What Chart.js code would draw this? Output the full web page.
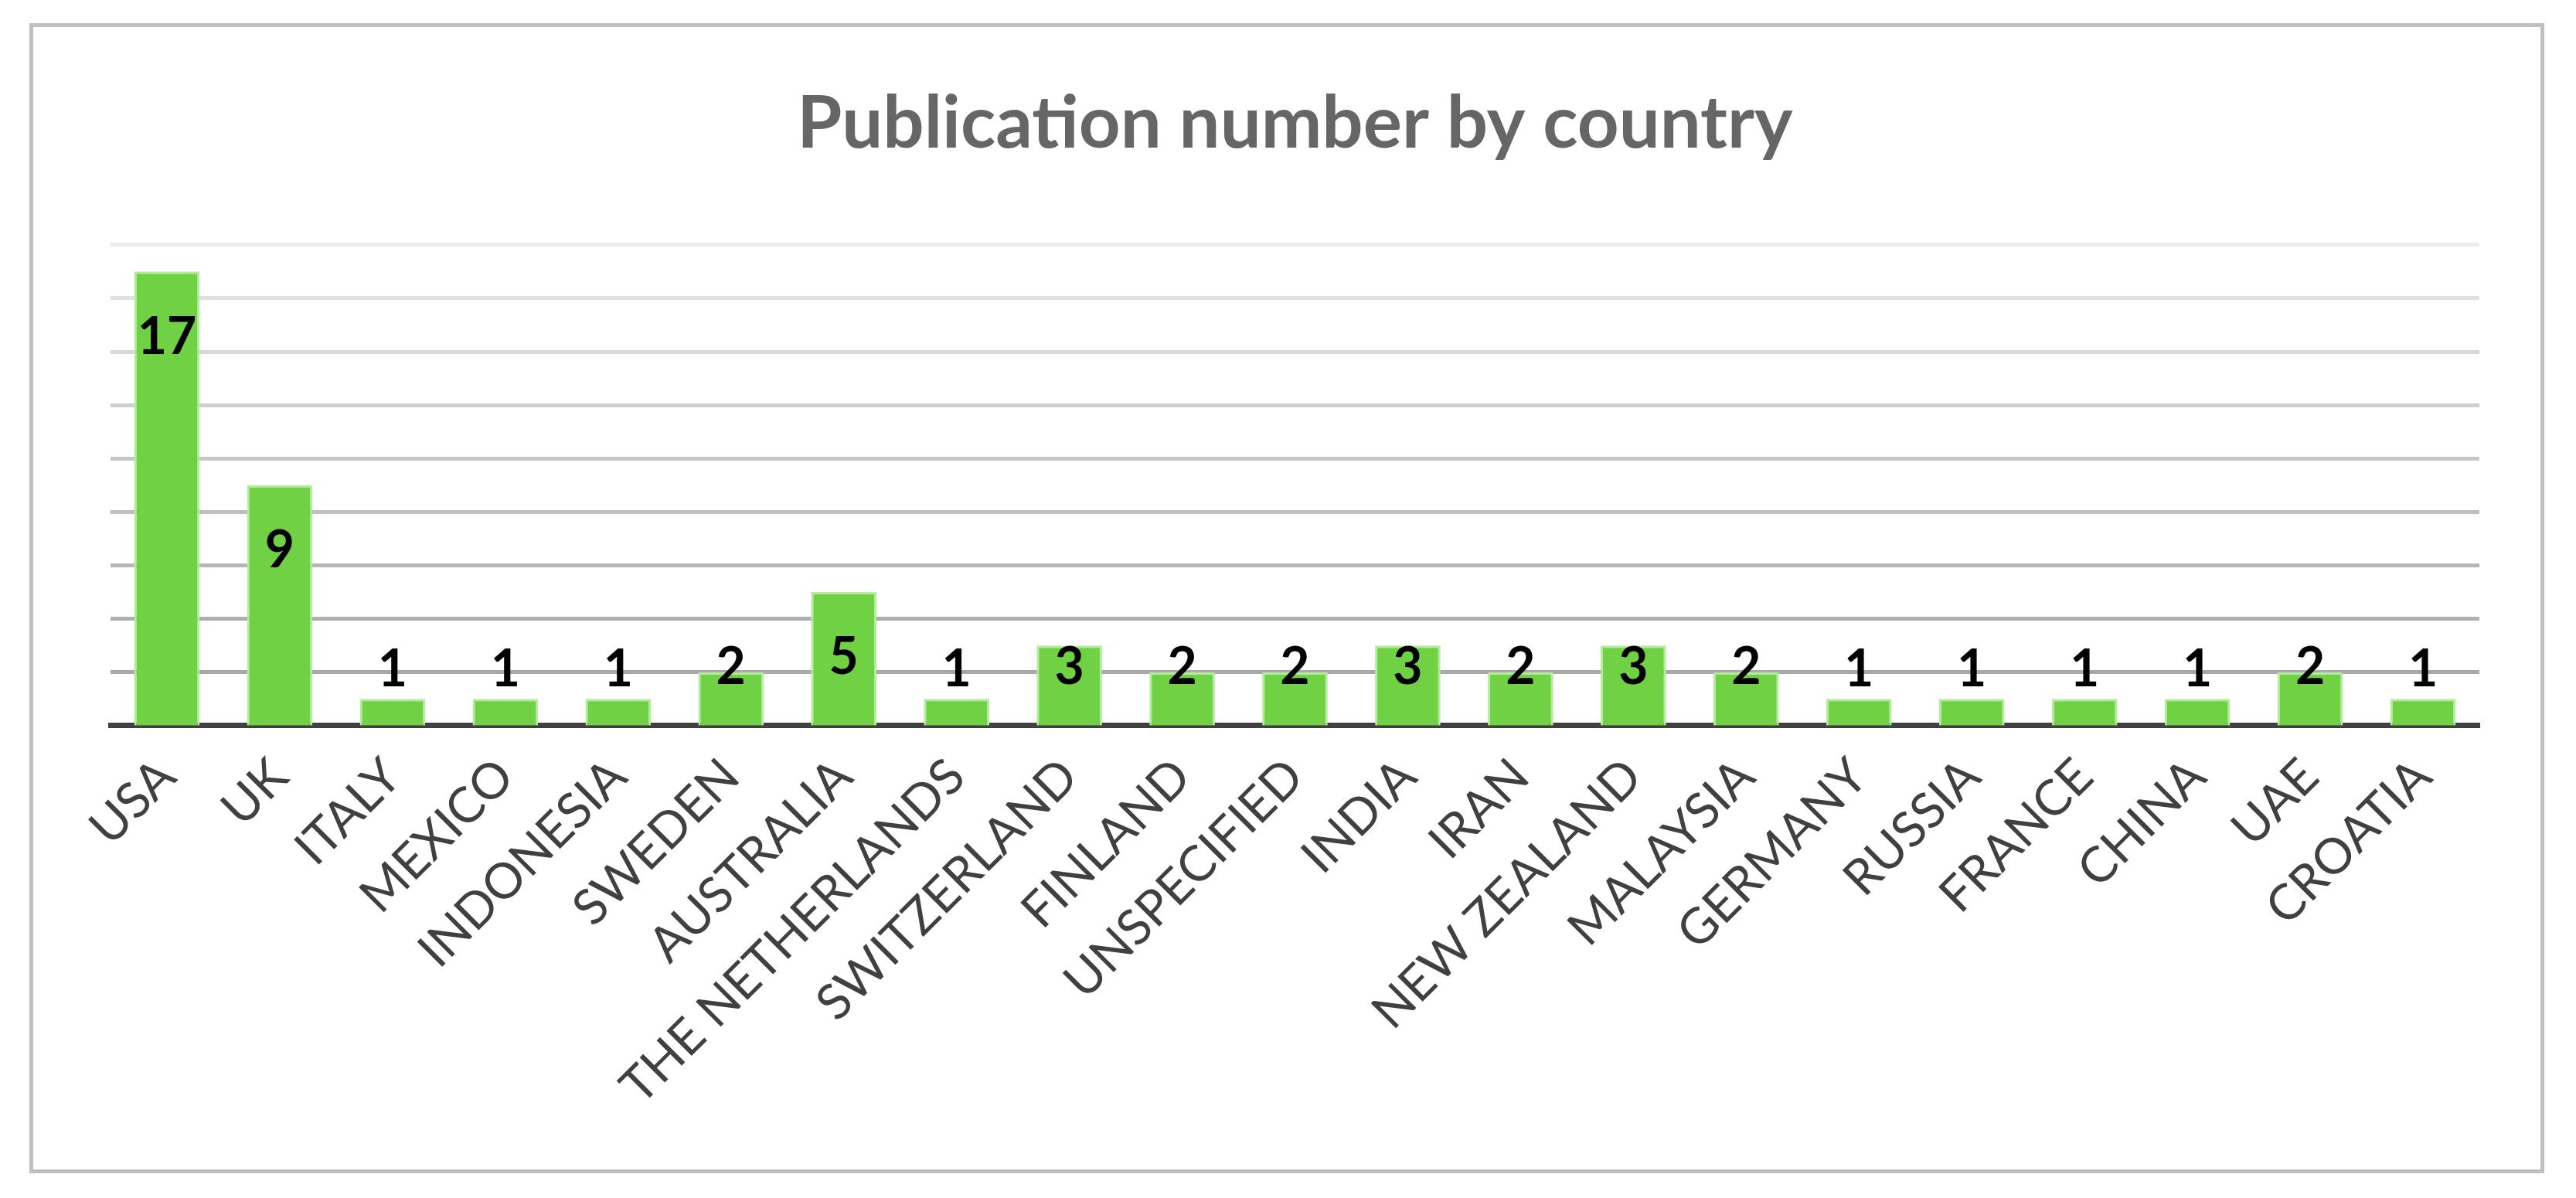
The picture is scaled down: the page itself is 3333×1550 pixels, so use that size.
<!DOCTYPE html>
<html>
<head>
<meta charset="utf-8">
<script src="https://cdn.jsdelivr.net/npm/chart.js@4/dist/chart.umd.min.js"></script>
<style>
  html, body { margin: 0; padding: 0; background: #ffffff; }
  #frame {
    position: absolute; left: 38px; top: 30px;
    width: 3254px; height: 1488px;
    border: 5px solid #bfbfbf; box-sizing: border-box;
  }
  #wrap { position: absolute; left: 0; top: 0; width: 3333px; height: 1550px; }
</style>
</head>
<body>
<div id="frame"></div>
<div id="wrap"><canvas id="pubchart"></canvas></div>
<script>
"use strict";

var countries = ['USA', 'UK', 'ITALY', 'MEXICO', 'INDONESIA', 'SWEDEN', 'AUSTRALIA',
    'THE NETHERLANDS', 'SWITZERLAND', 'FINLAND', 'UNSPECIFIED', 'INDIA', 'IRAN',
    'NEW ZEALAND', 'MALAYSIA', 'GERMANY', 'RUSSIA', 'FRANCE', 'CHINA', 'UAE', 'CROATIA'];
var publications = [17, 9, 1, 1, 1, 2, 5, 1, 3, 2, 2, 3, 2, 3, 2, 1, 1, 1, 1, 2, 1];
var yMax = 18;
var yStep = 2;
var gridShades = ['#a6a6a6', '#a9a9a9', '#afafaf', '#b6b6b6', '#bebebe', '#c6c6c6', '#cfcfcf', '#d8d8d8', '#e0e0e0', '#ebebeb'];

document.addEventListener("DOMContentLoaded", function () {

    /* value labels: inside the top of tall bars, just above short ones */
    var barLabels = {
        id: 'barLabels',
        afterDatasetsDraw: function (chart) {
            var ctx = chart.ctx;
            var meta = chart.getDatasetMeta(0);
            ctx.save();
            ctx.font = 'bold 66px Lato';
            ctx.fillStyle = '#000000';
            ctx.textAlign = 'center';
            ctx.textBaseline = 'middle';
            meta.data.forEach(function (bar, i) {
                var h = bar.base - bar.y;
                var y = h < 50 ? bar.y - 38 : Math.min(bar.y + 85, bar.base - 75);
                ctx.fillText(publications[i], bar.x, y);
            });
            ctx.restore();
        }
    };

    var ctx = document.getElementById('pubchart').getContext('2d');
    var chart = new Chart(ctx, {
        type: 'bar',
        data: {
            labels: countries,
            datasets: [{
                label: 'Publications',
                data: publications,
                backgroundColor: '#6fd143',
                borderColor: '#b3ec9c',
                borderWidth: 3,
                categoryPercentage: 1.0,
                barPercentage: 0.58
            }]
        },
        options: {
            responsive: true,
            maintainAspectRatio: false,
            animation: false,
            layout: {
                padding: { left: 143, right: 125, top: 40, bottom: 86 }
            },
            plugins: {
                legend: { display: false },
                tooltip: { enabled: false },
                title: {
                    display: true,
                    text: 'Publication number by country',
                    color: '#666666',
                    font: { family: 'Lato', size: 94, weight: 'bold' },
                    padding: { top: 64, bottom: 100 }
                }
            },
            scales: {
                y: {
                    min: 0,
                    max: yMax,
                    ticks: { display: false, stepSize: yStep },
                    border: { display: false },
                    grid: {
                        color: function (c) { return gridShades[c.index] || '#e0e0e0'; },
                        lineWidth: function (c) { return c.index === 0 ? 0 : 5; },
                        drawTicks: false
                    }
                },
                x: {
                    grid: { display: false },
                    border: { display: true, color: '#404040', width: 7 },
                    ticks: {
                        color: '#404040',
                        font: { family: 'Lato', size: 64 },
                        minRotation: 45,
                        maxRotation: 45,
                        padding: 20
                    }
                }
            }
        },
        plugins: [barLabels]
    });
});
</script>
</body>
</html>
